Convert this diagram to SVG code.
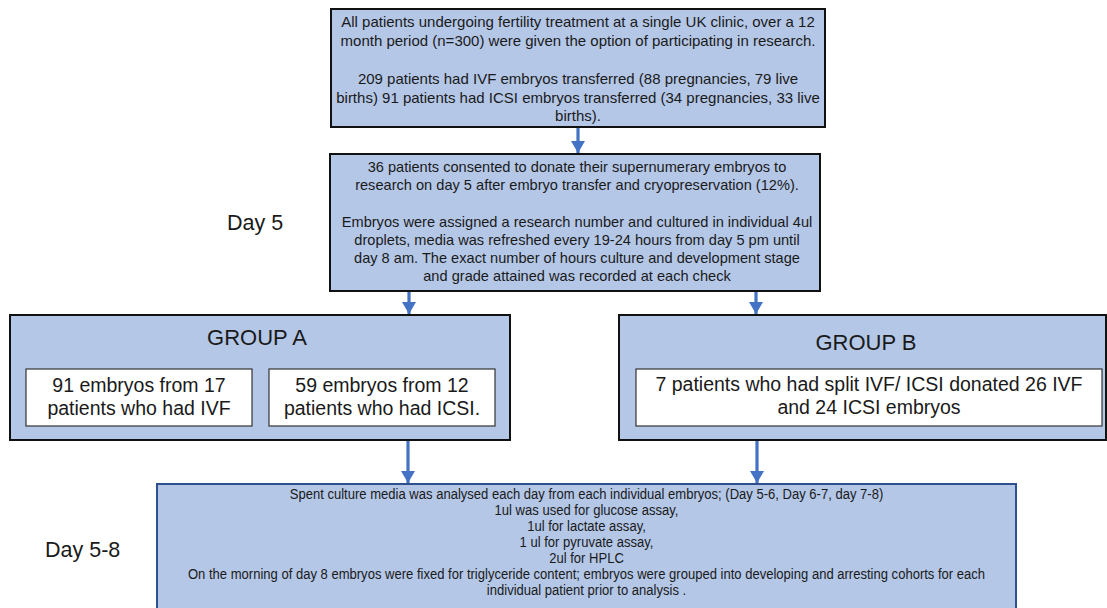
<svg xmlns="http://www.w3.org/2000/svg" width="1107" height="608" viewBox="0 0 1107 608">
  <defs>
    <style>
      .box { fill: #b4c7e7; stroke: #111; stroke-width: 2; }
      .inner { fill: #ffffff; stroke: #333; stroke-width: 1.2; }
      .bottom { fill: #b4c7e7; stroke: #2f4f8f; stroke-width: 2; }
      .t { font-family: "Liberation Sans", Arial, Helvetica, sans-serif; fill: #1a1a1a; text-anchor: middle; }
      .m { font-size: 14.6px; }
      .mt { font-size: 15px; }
      .g { font-size: 22px; }
      .i { font-size: 19.5px; }
      .s { font-size: 14.5px; }
      .day { font-family: "Liberation Sans", Arial, Helvetica, sans-serif; fill: #1a1a1a; font-size: 21.5px; }
      .conn { stroke: #4472c4; stroke-width: 3.2; fill: none; }
    </style>
    <marker id="ah" markerUnits="userSpaceOnUse" markerWidth="12" markerHeight="14" viewBox="0 0 12 14" refX="12" refY="7" orient="auto">
      <path d="M0,0 L12,7 L0,14 Z" fill="#4472c4"/>
    </marker>
  </defs>

  <g id="connectors">
    <line class="conn" x1="578" y1="128" x2="578" y2="153" marker-end="url(#ah)"/>
    <line class="conn" x1="409" y1="292" x2="409" y2="314" marker-end="url(#ah)"/>
    <line class="conn" x1="756" y1="292" x2="756" y2="314" marker-end="url(#ah)"/>
    <line class="conn" x1="408" y1="441" x2="408" y2="483" marker-end="url(#ah)"/>
    <line class="conn" x1="757" y1="441" x2="757" y2="483" marker-end="url(#ah)"/>
  </g>

  <g id="label-day5">
    <text class="day" x="227" y="230">Day 5</text>
  </g>
  <g id="label-day58">
    <text class="day" x="45" y="557">Day 5-8</text>
  </g>

  <g id="node-top">
    <rect class="box" x="331" y="9" width="494" height="118"/>
    <text class="t mt" x="578" y="27">All patients undergoing fertility treatment at a single UK clinic, over a 12</text>
    <text class="t mt" x="578" y="46">month period (n=300) were given the option of participating in research.</text>
    <text class="t mt" x="578" y="84">209 patients had IVF embryos transferred (88 pregnancies, 79 live</text>
    <text class="t mt" x="578" y="103">births) 91 patients had ICSI embryos transferred (34 pregnancies, 33 live</text>
    <text class="t mt" x="578" y="121">births).</text>
  </g>

  <g id="node-consent">
    <rect class="box" x="330" y="154" width="490" height="137"/>
    <text class="t m" x="577" y="172">36 patients consented to donate their supernumerary embryos to</text>
    <text class="t m" x="577" y="190">research on day 5 after embryo transfer and cryopreservation (12%).</text>
    <text class="t m" x="577" y="227">Embryos were assigned a research number and cultured in individual 4ul</text>
    <text class="t m" x="577" y="245">droplets, media was refreshed every 19-24 hours from day 5 pm until</text>
    <text class="t m" x="577" y="263">day 8 am. The exact number of hours culture and development stage</text>
    <text class="t m" x="577" y="281">and grade attained was recorded at each check</text>
  </g>

  <g id="node-group-a">
    <rect class="box" x="10" y="315" width="500" height="125"/>
    <text class="t g" x="257" y="345">GROUP A</text>
    <g id="node-a-ivf">
      <rect class="inner" x="26" y="369" width="226" height="57"/>
      <text class="t i" x="139" y="392">91 embryos from 17</text>
      <text class="t i" x="139" y="415">patients who had IVF</text>
    </g>
    <g id="node-a-icsi">
      <rect class="inner" x="269" y="369" width="226" height="57"/>
      <text class="t i" x="382" y="392">59 embryos from 12</text>
      <text class="t i" x="382" y="415">patients who had ICSI.</text>
    </g>
  </g>

  <g id="node-group-b">
    <rect class="box" x="619" y="315" width="487" height="125"/>
    <text class="t g" x="866" y="350">GROUP B</text>
    <g id="node-b-split">
      <rect class="inner" x="636" y="369" width="466" height="57"/>
      <text class="t i" x="869" y="391">7 patients who had split IVF/ ICSI donated 26 IVF</text>
      <text class="t i" x="869" y="414">and 24 ICSI embryos</text>
    </g>
  </g>

  <g id="node-analysis">
    <rect class="bottom" x="157" y="484" width="859" height="140"/>
    <g transform="translate(586.5 0) scale(0.9 1)">
      <text class="t s" x="0" y="499">Spent culture media was analysed each day from each individual embryos; (Day 5-6, Day 6-7, day 7-8)</text>
      <text class="t s" x="0" y="515">1ul was used for glucose assay,</text>
      <text class="t s" x="0" y="531">1ul for lactate assay,</text>
      <text class="t s" x="0" y="547">1 ul for pyruvate assay,</text>
      <text class="t s" x="0" y="563">2ul for HPLC</text>
      <text class="t s" x="0" y="579">On the morning of day 8 embryos were fixed for triglyceride content; embryos were grouped into developing and arresting cohorts for each</text>
      <text class="t s" x="0" y="595">individual patient prior to analysis .</text>
    </g>
  </g>
</svg>
